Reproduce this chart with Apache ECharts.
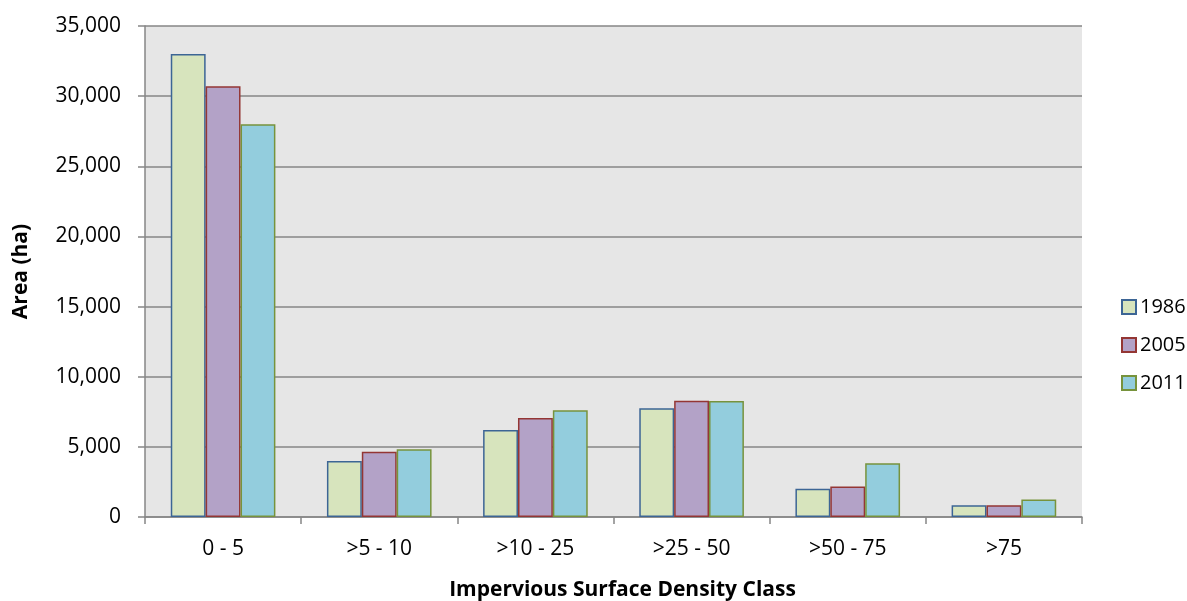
<!DOCTYPE html>
<html>
<head>
<meta charset="utf-8">
<script src="https://cdn.jsdelivr.net/npm/echarts@6/dist/echarts.min.js"></script>
<style>
  html, body { margin: 0; padding: 0; background: #ffffff; }
  #chart { width: 1187px; height: 601px; }
</style>
</head>
<body>
<div id="chart"></div>
<script>
// Impervious surface density classes and area (ha) per year
const categories = ['0 - 5', '>5 - 10', '>10 - 25', '>25 - 50', '>50 - 75', '>75'];
const years = ['1986', '2005', '2011'];
const area1986 = [33000, 4000, 6200, 7750, 2020, 830];
const area2005 = [30700, 4660, 7050, 8280, 2180, 830];
const area2011 = [28000, 4830, 7610, 8260, 3830, 1240];
const yTicks = [0, 5000, 10000, 15000, 20000, 25000, 30000, 35000];

const fills = ['#d7e4bd', '#b3a2c7', '#93cddd'];
const borders = ['#3c6595', '#943634', '#77933c'];
const seriesValues = [area1986, area2005, area2011];

const font = '"Open Sans", "Noto Sans", sans-serif';

const chart = echarts.init(document.getElementById('chart'), null, { renderer: 'canvas' });

chart.setOption({
  animation: false,
  backgroundColor: '#ffffff',
  grid: {
    left: 145, right: 105, top: 26, bottom: 84,
    outerBoundsMode: 'none',
    containLabel: false,
    show: true, backgroundColor: '#e6e6e6', borderWidth: 0
  },
  legend: {
    orient: 'vertical',
    left: 1116, top: 292,
    itemWidth: 14, itemHeight: 14, itemGap: 18,
    icon: 'rect',
    data: years,
    textStyle: { fontFamily: font, fontSize: 20, color: '#000', padding: [0, 0, 0, -1] }
  },
  xAxis: {
    type: 'category',
    data: categories,
    name: 'Impervious Surface Density Class',
    nameLocation: 'middle',
    nameGap: 63,
    nameTextStyle: { fontFamily: font, fontSize: 21, fontWeight: 'bold', color: '#000', padding: [0, 0, 0, 18] },
    axisLine: { lineStyle: { color: '#868686', width: 1.5 } },
    axisTick: { show: true, length: 7, lineStyle: { color: '#868686', width: 1.5 } },
    axisLabel: { fontFamily: font, fontSize: 21, color: '#000', margin: 22 }
  },
  yAxis: {
    type: 'value',
    min: 0, max: 35000, interval: 5000,
    name: 'Area (ha)',
    nameLocation: 'middle',
    nameGap: 113,
    nameRotate: 90,
    nameTextStyle: { fontFamily: font, fontSize: 21, fontWeight: 'bold', color: '#000' },
    axisLine: { show: true, lineStyle: { color: '#868686', width: 1.5 } },
    axisTick: { show: true, length: 7, lineStyle: { color: '#868686', width: 1.5 } },
    splitLine: { show: true, lineStyle: { color: '#868686', width: 1.5 } },
    axisLabel: {
      fontFamily: font, fontSize: 21, color: '#000', margin: 24,
      formatter: v => yTicks.includes(v) ? v.toLocaleString('en-US') : ''
    }
  },
  series: years.map((y, i) => ({
    name: y,
    type: 'bar',
    data: seriesValues[i],
    barGap: '0%',
    barCategoryGap: '33%',
    itemStyle: { color: fills[i], borderColor: borders[i], borderWidth: 1.5 }
  }))
});
</script>
</body>
</html>
